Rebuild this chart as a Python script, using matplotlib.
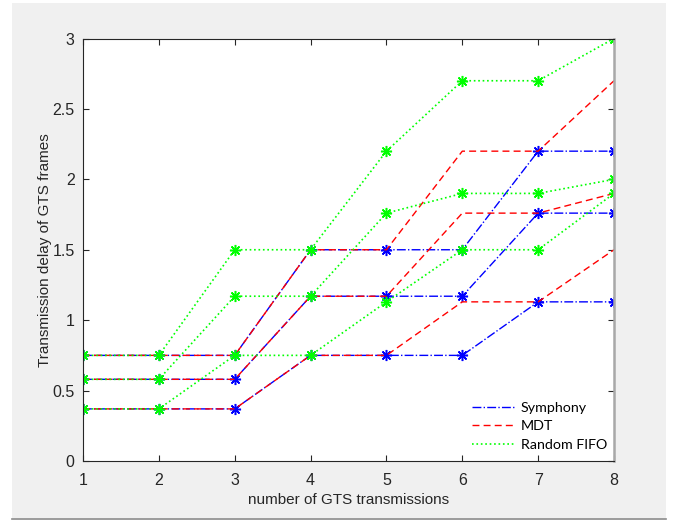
import matplotlib
matplotlib.use('Agg')
import matplotlib.pyplot as plt
from matplotlib.patches import Rectangle
from matplotlib.lines import Line2D

# 数据
x = [1, 2, 3, 4, 5, 6, 7, 8]

symphony_low = [0.37, 0.37, 0.37, 0.75, 0.75, 0.75, 1.13, 1.13]
symphony_mid = [0.58, 0.58, 0.58, 1.17, 1.17, 1.17, 1.76, 1.76]
symphony_high = [0.75, 0.75, 0.75, 1.5, 1.5, 1.5, 2.2, 2.2]

mdt_low = [0.37, 0.37, 0.37, 0.75, 0.75, 1.13, 1.13, 1.5]
mdt_mid = [0.58, 0.58, 0.58, 1.17, 1.17, 1.76, 1.76, 1.9]
mdt_high = [0.75, 0.75, 0.75, 1.5, 1.5, 2.2, 2.2, 2.7]

fifo_low = [0.37, 0.37, 0.75, 0.75, 1.13, 1.5, 1.5, 1.9]
fifo_mid = [0.58, 0.58, 1.17, 1.17, 1.76, 1.9, 1.9, 2.0]
fifo_high = [0.75, 0.75, 1.5, 1.5, 2.2, 2.7, 2.7, 3.0]

legend_labels = ['Symphony', 'MDT', 'Random FIFO']

plt.rcParams['font.family'] = ['Liberation Sans', 'DejaVu Sans']

fig = plt.figure(figsize=(6.76, 5.21), dpi=100, facecolor='white')
# grauer Fensterhintergrund wie in MATLAB
fig.patches.append(Rectangle((12 / 676, 3 / 521), 654 / 676, 515 / 521,
                             transform=fig.transFigure, facecolor='#f0f0f0',
                             edgecolor='none', zorder=-10))
fig.lines.append(Line2D([12 / 676, 666 / 676], [2.5 / 521, 2.5 / 521],
                        transform=fig.transFigure, color='#8a8a8a', lw=1.2))

ax = fig.add_axes([83 / 676, 60 / 521, 531 / 676, 422.5 / 521])
ax.set_facecolor('white')

ast = (8, 2, 0)

for s in [symphony_low, symphony_mid, symphony_high]:
    ax.plot(x, s, color='#0000ff', ls='-.', lw=1.0, marker=ast, ms=8, mew=1.1)
for s in [mdt_low, mdt_mid, mdt_high]:
    ax.plot(x, s, color='#ff0000', ls='--', lw=1.0, dashes=(5, 3))
for s in [fifo_low, fifo_mid, fifo_high]:
    ax.plot(x, s, color='#00ff00', ls=':', lw=1.2, marker=ast, ms=8, mew=1.1)

ax.set_xlim(1, 8)
ax.set_ylim(0, 3)
ax.set_xticks(x)
ax.set_yticks([0, 0.5, 1, 1.5, 2, 2.5, 3])
ax.set_yticklabels(['0', '0.5', '1', '1.5', '2', '2.5', '3'])
ax.tick_params(direction='in', top=True, right=True, length=4, width=0.8,
               color='#262626', labelsize=11.5, labelcolor='#262626')
ax.tick_params(axis='x', pad=8.5)
ax.tick_params(axis='y', pad=6)

for sp in ['left', 'bottom', 'top']:
    ax.spines[sp].set_color('#262626')
    ax.spines[sp].set_linewidth(0.8)
ax.spines['right'].set_color('#a8a8a8')
ax.spines['right'].set_linewidth(1.8)

ax.set_xlabel('number of GTS transmissions', fontsize=11, color='#262626', labelpad=4)
ax.set_ylabel('Transmission delay of GTS frames', fontsize=11, color='#262626', labelpad=0)

handles = [Line2D([], [], color='#0000ff', ls='-.', lw=1.0),
           Line2D([], [], color='#ff0000', ls='--', lw=1.0, dashes=(5, 3)),
           Line2D([], [], color='#00ff00', ls=':', lw=1.2)]
ax.legend(handles, legend_labels, loc='lower right', bbox_to_anchor=(1.011, -0.006),
          frameon=False, handlelength=3.0, handletextpad=0.4,
          labelspacing=0.45, prop={'family': ['Lato', 'DejaVu Sans'], 'size': 10.3})

fig.savefig('out.png', dpi=100, facecolor=fig.get_facecolor())
